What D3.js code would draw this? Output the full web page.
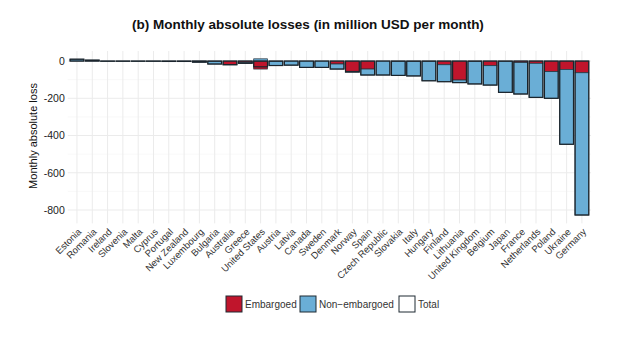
<!DOCTYPE html>
<html>
<head>
<meta charset="utf-8">
<script src="https://cdn.jsdelivr.net/npm/d3@7"></script>
<style>
  body { margin: 0; background: #fff; }
  text { font-family: "Liberation Sans", Arial, sans-serif; }
</style>
</head>
<body>
<svg id="chart" width="620" height="350"></svg>
<script>
const countries = ["Estonia", "Romania", "Ireland", "Slovenia", "Malta", "Cyprus", "Portugal",
  "New Zealand", "Luxembourg", "Bulgaria", "Australia", "Greece", "United States", "Austria",
  "Latvia", "Canada", "Sweden", "Denmark", "Norway", "Spain", "Czech Republic", "Slovakia",
  "Italy", "Hungary", "Finland", "Lithuania", "United Kingdom", "Belgium", "Japan", "France",
  "Netherlands", "Poland", "Ukraine", "Germany"];
const embargoed = [0, 0, 0, 0, 0, 0, 0, 0, -1, -2, -18, -8, -43, -2,
  0, 0, 0, -16, -55, -43, 0, -2, -3, -2, -20, -102, -3, -25, -2, -8,
  -12, -57, -45, -63];
const nonEmbargoed = [10, 5, -1, -1, -1, -1, -2, -2, -5, -14, -2, -4, 12, -22,
  -22, -34, -34, -27, -4, -32, -75, -75, -77, -104, -91, -14, -120, -104, -166, -169,
  -183, -143, -402, -764];
const totals = [10, 5, -1, -1, -1, -1, -2, -2, -6, -16, -20, -12, -31, -24,
  -22, -34, -34, -43, -59, -75, -75, -77, -80, -106, -111, -116, -123, -129, -168, -177,
  -195, -200, -447, -827];
const yTicks = [0, -200, -400, -600, -800];
const yMinor = [-100, -300, -500, -700];
const legendItems = ["Embargoed", "Non\u2212embargoed", "Total"];
const colors = { emb: "#c0152c", non: "#6aaed6", total: "#ffffff" };

const svg = d3.select("#chart");
const m = { top: 51, bottom: 223.4, left: 67.8, right: 591.1 };

const x = d3.scaleBand()
  .domain(countries)
  .range([m.left, m.right])
  .paddingInner(0.1)
  .paddingOuter(0.15);

const y = d3.scaleLinear()
  .domain([-872, 54])
  .range([m.bottom, m.top]);

// grid
svg.append("g")
  .selectAll("line")
  .data(yMinor)
  .enter().append("line")
    .attr("x1", m.left).attr("x2", m.right)
    .attr("y1", d => y(d)).attr("y2", d => y(d))
    .attr("stroke", "#f3f3f3").attr("stroke-width", 0.6);

svg.append("g")
  .selectAll("line")
  .data(yTicks)
  .enter().append("line")
    .attr("x1", m.left).attr("x2", m.right)
    .attr("y1", d => y(d)).attr("y2", d => y(d))
    .attr("stroke", "#ebebeb").attr("stroke-width", 1);

svg.append("g")
  .selectAll("line")
  .data(countries)
  .enter().append("line")
    .attr("x1", d => x(d) + x.bandwidth() / 2).attr("x2", d => x(d) + x.bandwidth() / 2)
    .attr("y1", m.top).attr("y2", m.bottom)
    .attr("stroke", "#ebebeb").attr("stroke-width", 1);

// stacked bars
const rows = countries.map((c, i) => ({ country: c, emb: embargoed[i], non: nonEmbargoed[i], total: totals[i] }));
const stacked = d3.stack()
  .keys(["emb", "non"])
  .offset(d3.stackOffsetDiverging)(rows);

svg.append("g")
  .selectAll("g")
  .data(stacked)
  .enter().append("g")
    .attr("fill", d => colors[d.key])
  .selectAll("rect")
  .data(d => d)
  .enter().append("rect")
    .attr("x", d => x(d.data.country))
    .attr("width", x.bandwidth())
    .attr("y", d => y(Math.max(d[0], d[1])))
    .attr("height", d => Math.abs(y(d[0]) - y(d[1])))
    .attr("stroke", "#22303a")
    .attr("stroke-width", 0.7);

svg.append("g")
  .selectAll("rect")
  .data(rows)
  .enter().append("rect")
    .attr("x", d => x(d.country))
    .attr("width", x.bandwidth())
    .attr("y", d => y(Math.max(0, d.total)))
    .attr("height", d => Math.abs(y(0) - y(d.total)))
    .attr("fill", "none")
    .attr("stroke", "#1a242c")
    .attr("stroke-width", 1.2);

// y axis
svg.append("g")
  .attr("transform", `translate(${m.left},0)`)
  .call(d3.axisLeft(y).tickValues(yTicks).tickSize(0).tickPadding(3).tickFormat(d => d < 0 ? "-" + Math.abs(d) : d))
  .call(g => g.select(".domain").remove())
  .call(g => g.selectAll("text")
    .attr("font-family", "Liberation Sans, Arial, sans-serif")
    .attr("font-size", "10.5px")
    .attr("fill", "#222"));

// x labels
svg.append("g")
  .selectAll("text")
  .data(countries)
  .enter().append("text")
    .attr("transform", d => `translate(${x(d) + x.bandwidth() / 2 + 5},${m.bottom + 9}) rotate(-45)`)
    .attr("text-anchor", "end")
    .attr("font-size", "9.5px")
    .attr("fill", "#333")
    .text(d => d);

// axis title
svg.append("text")
  .attr("transform", `translate(37,136) rotate(-90)`)
  .attr("text-anchor", "middle")
  .attr("font-size", "11px")
  .attr("fill", "#111")
  .text("Monthly absolute loss");

// title
svg.append("text")
  .attr("x", 308)
  .attr("y", 29)
  .attr("text-anchor", "middle")
  .attr("font-size", "13.5px")
  .attr("font-weight", "bold")
  .attr("fill", "#111")
  .text("(b) Monthly absolute losses (in million USD per month)");

// legend
const legendX = [226, 300, 399];
const legendFill = [colors.emb, colors.non, colors.total];
const legend = svg.append("g");
legend.selectAll("rect")
  .data(legendItems)
  .enter().append("rect")
    .attr("x", (d, i) => legendX[i])
    .attr("y", 296)
    .attr("width", 16).attr("height", 16)
    .attr("fill", (d, i) => legendFill[i])
    .attr("stroke", "#1f2a33")
    .attr("stroke-width", 1);
legend.selectAll("text")
  .data(legendItems)
  .enter().append("text")
    .attr("x", (d, i) => legendX[i] + 19)
    .attr("y", 308)
    .attr("font-size", "10px")
    .attr("fill", "#333")
    .text(d => d);
</script>
</body>
</html>
